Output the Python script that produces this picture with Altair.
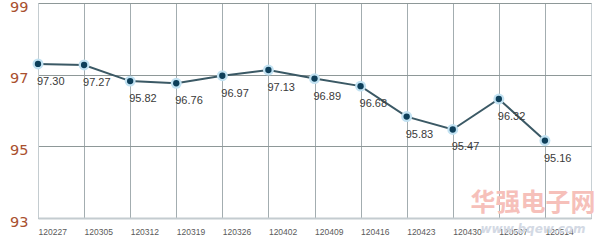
import altair as alt
import pandas as pd

dates = ["120227", "120305", "120312", "120319", "120326", "120402",
         "120409", "120416", "120423", "120430", "120507", "120514"]
values = [97.30, 97.27, 96.82, 96.76, 96.97, 97.13, 96.89, 96.68, 95.83, 95.47, 96.32, 95.16]
value_labels = ["97.30", "97.27", "95.82", "96.76", "96.97", "97.13",
                "96.89", "96.68", "95.83", "95.47", "96.32", "95.16"]
y_ticks = [93, 95, 97, 99]

df = pd.DataFrame({
    "idx": list(range(len(dates))),
    "date": dates,
    "value": values,
    "label": value_labels,
})

label_expr = "[" + ",".join(f"'{d}'" for d in dates) + "][datum.value]"

x_enc = alt.X(
    "idx:Q",
    scale=alt.Scale(domain=[0, len(dates)], nice=False, zero=False),
    axis=alt.Axis(
        values=list(range(len(dates))),
        labelExpr=label_expr,
        title=None,
        labelAlign="left",
        labelBaseline="top",
        labelPadding=9,
        labelFont="Liberation Sans",
        labelFontSize=8.5,
        labelColor="#5a5a5a",
        ticks=False,
        grid=True,
        gridColor="#a3adb0",
        gridWidth=1,
        domainColor="#c4ccd0",
        domainWidth=2,
    ),
)
y_enc = alt.Y(
    "value:Q",
    scale=alt.Scale(domain=[93, 99], nice=False, zero=False),
    axis=alt.Axis(
        values=y_ticks,
        title=None,
        ticks=False,
        grid=True,
        gridColor="#8e9898",
        gridWidth=1,
        domainColor="#c4ccd0",
        domainWidth=1,
        labelFont="DejaVu Sans",
        labelFontSize=14.5,
        labelColor="#a9502f",
        labelPadding=10,
        labelOffset=4,
    ),
)

base = alt.Chart(df).encode(x=x_enc, y=y_enc)

line = base.mark_line(color="#3b5965", strokeWidth=2)
halo = base.mark_point(filled=True, size=120, color="#c2e2f2", opacity=1)
dots = base.mark_point(filled=True, size=40, color="#0d3f5a", opacity=1)
texts = base.mark_text(
    align="left", baseline="middle", dx=-1, dy=18,
    font="Liberation Sans", fontSize=11, color="#3a3a3a"
).encode(text="label:N")

wm1 = alt.Chart(pd.DataFrame({"t": ["华强电子网"]})).mark_text(
    font="Noto Sans CJK SC", fontSize=25, fontWeight="bold",
    color="#f6c0ba", align="center", baseline="middle"
).encode(text="t:N", x=alt.value(495), y=alt.value(200))
wm2 = alt.Chart(pd.DataFrame({"t": ["www.bqew.com"]})).mark_text(
    font="DejaVu Sans", fontSize=12, fontWeight="bold", fontStyle="italic",
    color="#d3d9e4", align="center", baseline="middle"
).encode(text="t:N", x=alt.value(495), y=alt.value(226))

chart = alt.layer(wm1, wm2, line, halo, dots, texts).properties(
    width=553,
    height=215,
    padding={"left": 38, "top": 3, "right": 9, "bottom": 26},
    autosize=alt.AutoSizeParams(type="none"),
    background="white",
).configure_view(stroke="#c8d0d4", strokeWidth=1)

chart.save("out.html", embed_options={"renderer": "svg", "actions": False})
